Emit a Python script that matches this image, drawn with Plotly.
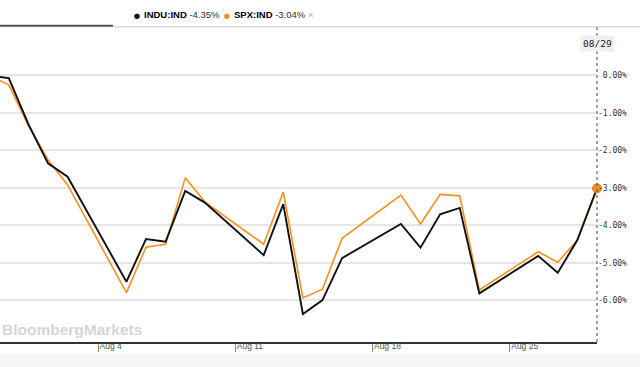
import plotly.graph_objects as go
import pandas as pd

# ---- data ----
dates = ["2019-07-29", "2019-07-30", "2019-07-31", "2019-08-01", "2019-08-02",
         "2019-08-05", "2019-08-06", "2019-08-07", "2019-08-08", "2019-08-09",
         "2019-08-12", "2019-08-13", "2019-08-14", "2019-08-15", "2019-08-16",
         "2019-08-19", "2019-08-20", "2019-08-21", "2019-08-22", "2019-08-23",
         "2019-08-26", "2019-08-27", "2019-08-28", "2019-08-29"]
indu = [0.00, -0.07, -1.30, -2.34, -2.70, -5.50, -4.36, -4.43, -3.08, -3.39,
        -4.79, -3.43, -6.36, -5.99, -4.87, -3.96, -4.59, -3.70, -3.53, -5.81,
        -4.81, -5.26, -4.39, -3.01]
spx = [0.00, -0.25, -1.33, -2.25, -2.92, -5.79, -4.58, -4.50, -2.73, -3.37,
       -4.50, -3.11, -5.93, -5.70, -4.34, -3.19, -3.96, -3.17, -3.21, -5.72,
       -4.70, -4.98, -4.39, -3.01]
series_names = ["INDU:IND", "SPX:IND"]
series_changes = ["-4.35%", "-3.04%"]
x_tick_dates = ["2019-08-04", "2019-08-11", "2019-08-18", "2019-08-25"]
x_tick_labels = ["Aug 4", "Aug 11", "Aug 18", "Aug 25"]
y_tick_vals = [0, -1, -2, -3, -4, -5, -6]
y_tick_labels = ["\u00a00.00%", "-1.00%", "-2.00%", "-3.00%", "-4.00%", "-5.00%", "-6.00%"]
watermark = "BloombergMarkets"

BLACK = "#111111"
ORANGE = "#f7901e"

x = pd.to_datetime(dates) + pd.Timedelta(hours=10, minutes=30)

fig = go.Figure()
fig.add_trace(go.Scatter(x=x, y=spx, mode="lines", line=dict(color=ORANGE, width=1.6),
                         name=series_names[1], hoverinfo="skip"))
fig.add_trace(go.Scatter(x=x, y=indu, mode="lines", line=dict(color=BLACK, width=1.9),
                         name=series_names[0], hoverinfo="skip"))
fig.add_trace(go.Scatter(x=[x[-1]], y=[spx[-1]], mode="markers", cliponaxis=False,
                         marker=dict(color=ORANGE, size=9, line=dict(color="#e07f10", width=1)),
                         hoverinfo="skip"))

W, H = 640, 367
L, R, T, B = 0, 43, 27, 25
pw, ph = W - L - R, H - T - B


def px_x(p):
    return (p - L) / pw


def px_y(p):
    return (H - B - p) / ph


shapes = [
    dict(type="rect", xref="paper", yref="paper", x0=px_x(0), x1=px_x(W), y0=px_y(353), y1=px_y(H),
         fillcolor="#f6f6f6", line=dict(width=0), layer="below"),
    dict(type="line", xref="paper", yref="paper", x0=px_x(0), x1=px_x(113), y0=px_y(25.8), y1=px_y(25.8),
         line=dict(color="#555555", width=2)),
    dict(type="line", xref="paper", yref="paper", x0=px_x(113), x1=px_x(W), y0=px_y(26.8), y1=px_y(26.8),
         line=dict(color="#cccccc", width=1)),
    dict(type="line", xref="paper", yref="paper", x0=1, x1=1, y0=0, y1=1,
         line=dict(color="#444444", width=1, dash="dot")),
]

ann = []
LEG_Y = px_y(15)
FONT = "Liberation Sans, Arial"
ann.append(dict(xref="paper", yref="paper", x=px_x(136.7), y=LEG_Y, text="●", showarrow=False,
                font=dict(color=BLACK, size=13), xanchor="center", yanchor="middle"))
ann.append(dict(xref="paper", yref="paper", x=px_x(142), y=LEG_Y,
                text=f"<b>{series_names[0]}</b> <span style='color:#333'>{series_changes[0]}</span>",
                showarrow=False, font=dict(color="#000", size=9.5, family=FONT),
                xanchor="left", yanchor="middle"))
ann.append(dict(xref="paper", yref="paper", x=px_x(226.7), y=LEG_Y, text="●", showarrow=False,
                font=dict(color=ORANGE, size=13), xanchor="center", yanchor="middle"))
ann.append(dict(xref="paper", yref="paper", x=px_x(232), y=LEG_Y,
                text=f"<b>{series_names[1]}</b> <span style='color:#333'>{series_changes[1]}</span> "
                     f"<span style='color:#aaa'>×</span>",
                showarrow=False, font=dict(color="#000", size=9.5, family=FONT),
                xanchor="left", yanchor="middle"))
ann.append(dict(xref="paper", yref="paper", x=1, y=px_y(43.5),
                text=pd.Timestamp(dates[-1]).strftime("%m/%d"), showarrow=False,
                font=dict(color="#222", size=9.5, family="DejaVu Sans Mono"),
                bgcolor="#f0f0f0", borderpad=2, xanchor="center", yanchor="middle"))
ann.append(dict(xref="paper", yref="paper", x=px_x(0), y=px_y(329), text=f"<b>{watermark}</b>",
                showarrow=False, font=dict(color="#d6d6d6", size=15.5, family=FONT),
                xanchor="left", yanchor="middle"))

fig.update_layout(
    width=W, height=H,
    margin=dict(l=L, r=R, t=T, b=B, pad=0),
    paper_bgcolor="white", plot_bgcolor="white",
    showlegend=False,
    shapes=shapes, annotations=ann,
    xaxis=dict(
        type="date",
        range=["2019-07-29 23:45", "2019-08-29 10:33"],
        tickvals=pd.to_datetime(x_tick_dates), ticktext=x_tick_labels,
        showgrid=False, zeroline=False,
        showline=True, linecolor="#333333", linewidth=1.5,
        ticks="outside", ticklen=8, tickcolor="#888888", tickwidth=1,
        ticklabelposition="outside right", ticklabelstandoff=-5,
        tickfont=dict(size=8.5, color="#555555", family=FONT),
    ),
    yaxis=dict(
        side="right",
        range=[-7.107, 1.293],
        tickvals=y_tick_vals, ticktext=y_tick_labels,
        showgrid=True, gridcolor="#e6e6e6", gridwidth=1.5,
        zeroline=False, showline=False, ticks="",
        tickfont=dict(size=8, color="#333333", family="DejaVu Sans Mono"),
    ),
)

fig.write_html("out.html", config={"displayModeBar": False},
               post_script="document.body.style.margin='0';document.body.style.overflow='hidden';")
